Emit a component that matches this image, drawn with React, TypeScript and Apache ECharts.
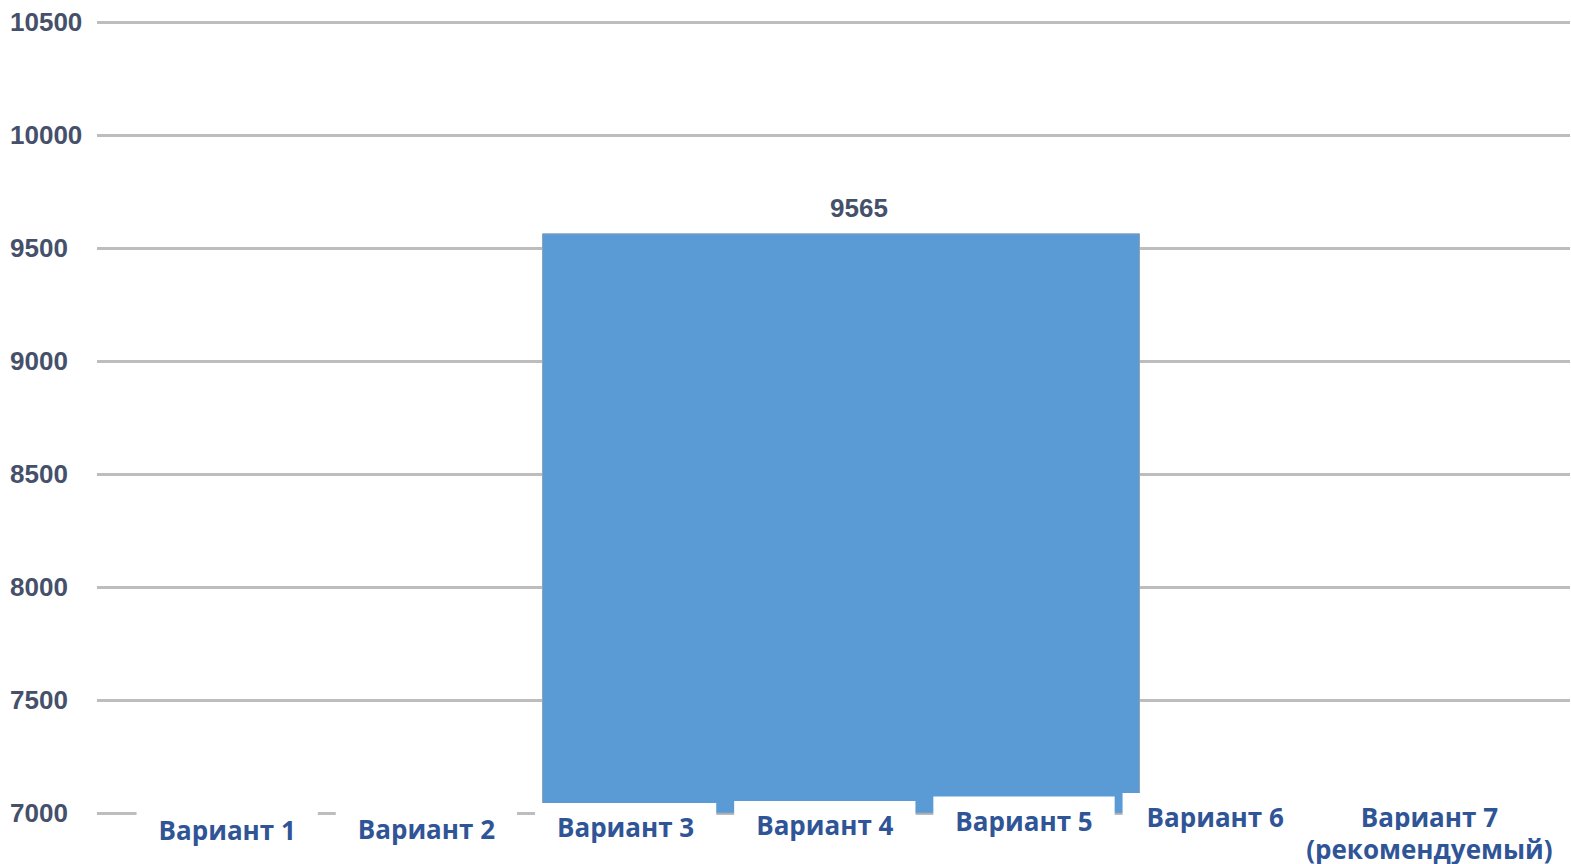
import { useEffect, useRef } from "react";
import * as echarts from "echarts";

// Category axis: variant names
const variants = [
  "Вариант 1",
  "Вариант 2",
  "Вариант 3",
  "Вариант 4",
  "Вариант 5",
  "Вариант 6",
  "Вариант 7\n(рекомендуемый)",
];

// The single plotted bar
const barCategory = ["Варианты 3–5"];
const barValues = [9565];

// Value axis range and step
const yMin = 7000;
const yMax = 10500;
const yStep = 500;

const LABEL_BLUE = "#2f5597";
const AXIS_GREY_BLUE = "#45506a";
const GRID_GREY = "#bdbdbd";
const BAR_BLUE = "#5b9bd5";

// How far each variant plate sits below the highest one (px)
const plateDrop = [12.5, 11.5, 10, 8, 3.5, 0, 0];

const labelFont = {
  fontFamily: "'Open Sans', 'Noto Sans', sans-serif",
  fontWeight: "bold" as const,
  fontSize: 26,
  color: LABEL_BLUE,
  backgroundColor: "#ffffff",
  align: "center" as const,
};

function buildRich() {
  const rich: Record<string, any> = {
    box: { ...labelFont, padding: [11, 22, 12, 22] },
    boxSix: { ...labelFont, padding: [11, 40, 12, 24] },
    lead: { fontSize: 1, width: 19, lineHeight: 1 },
    topLine: { ...labelFont, padding: [11, 78, 0, 73] },
    subLine: { ...labelFont, padding: [6, 18, 0, 32] },
  };
  plateDrop.forEach((d, i) => {
    if (d > 0) rich["s" + i] = { fontSize: 1, lineHeight: d };
  });
  return rich;
}

function formatVariant(value: string, idx: number) {
  const spacer = plateDrop[idx] > 0 ? `{s${idx}| }\n` : "";
  if (value.includes("\n")) {
    const [a, b] = value.split("\n");
    return `${spacer}{lead| }{topLine|${a}}\n{subLine|${b}}`;
  }
  const style = idx === 5 ? "boxSix" : "box";
  return `${spacer}{${style}|${value}}`;
}

export default function App() {
  const ref = useRef<HTMLDivElement>(null);

  useEffect(() => {
    if (!ref.current) return;
    const chart = echarts.init(ref.current, undefined, { renderer: "svg" });

    const gridBase = {
      top: 22,
      bottom: 51,
      containLabel: false,
      outerBoundsMode: "none",
    };

    chart.setOption({
      animation: false,
      backgroundColor: "#ffffff",
      grid: [
        // value grid: gridlines and tick labels
        { ...gridBase, left: 97, right: 1 },
        // variant labels row
        { ...gridBase, left: 127.6, right: 49 },
        // bar
        { ...gridBase, left: 243, right: 132 },
      ],
      xAxis: [
        {
          type: "category",
          gridIndex: 0,
          data: barCategory,
          show: false,
        },
        {
          type: "category",
          gridIndex: 1,
          data: variants,
          z: 10,
          axisLine: { show: false },
          axisTick: { show: false },
          axisLabel: {
            interval: 0,
            margin: -20,
            formatter: formatVariant,
            rich: buildRich(),
          },
        },
        {
          type: "category",
          gridIndex: 2,
          data: barCategory,
          show: false,
        },
      ],
      yAxis: [
        {
          type: "value",
          gridIndex: 0,
          min: yMin,
          max: yMax,
          interval: yStep,
          axisLine: { show: false },
          axisTick: { show: false },
          splitLine: { lineStyle: { color: GRID_GREY, width: 3 } },
          axisLabel: {
            align: "left",
            margin: 87,
            formatter: (v: number) => String(v),
            fontFamily: "'Liberation Sans', Arial, sans-serif",
            fontWeight: "bold",
            fontSize: 26,
            color: AXIS_GREY_BLUE,
          },
        },
        {
          type: "value",
          gridIndex: 1,
          min: 0,
          max: 1,
          show: false,
        },
        {
          type: "value",
          gridIndex: 2,
          min: yMin,
          max: yMax,
          interval: yStep,
          show: false,
        },
      ],
      series: [
        {
          type: "bar",
          xAxisIndex: 2,
          yAxisIndex: 2,
          data: barValues,
          barWidth: "50%",
          itemStyle: {
            color: BAR_BLUE,
            borderColor: "#8ea2b8",
            borderWidth: 1,
          },
          label: {
            show: true,
            position: "top",
            distance: 12,
            offset: [18, 0],
            fontFamily: "'Liberation Sans', Arial, sans-serif",
            fontWeight: "bold",
            fontSize: 26,
            color: AXIS_GREY_BLUE,
          },
        },
      ],
    });

    return () => chart.dispose();
  }, []);

  return (
    <div
      ref={ref}
      style={{ position: "fixed", left: 0, top: 0, width: 1571, height: 864 }}
    />
  );
}
